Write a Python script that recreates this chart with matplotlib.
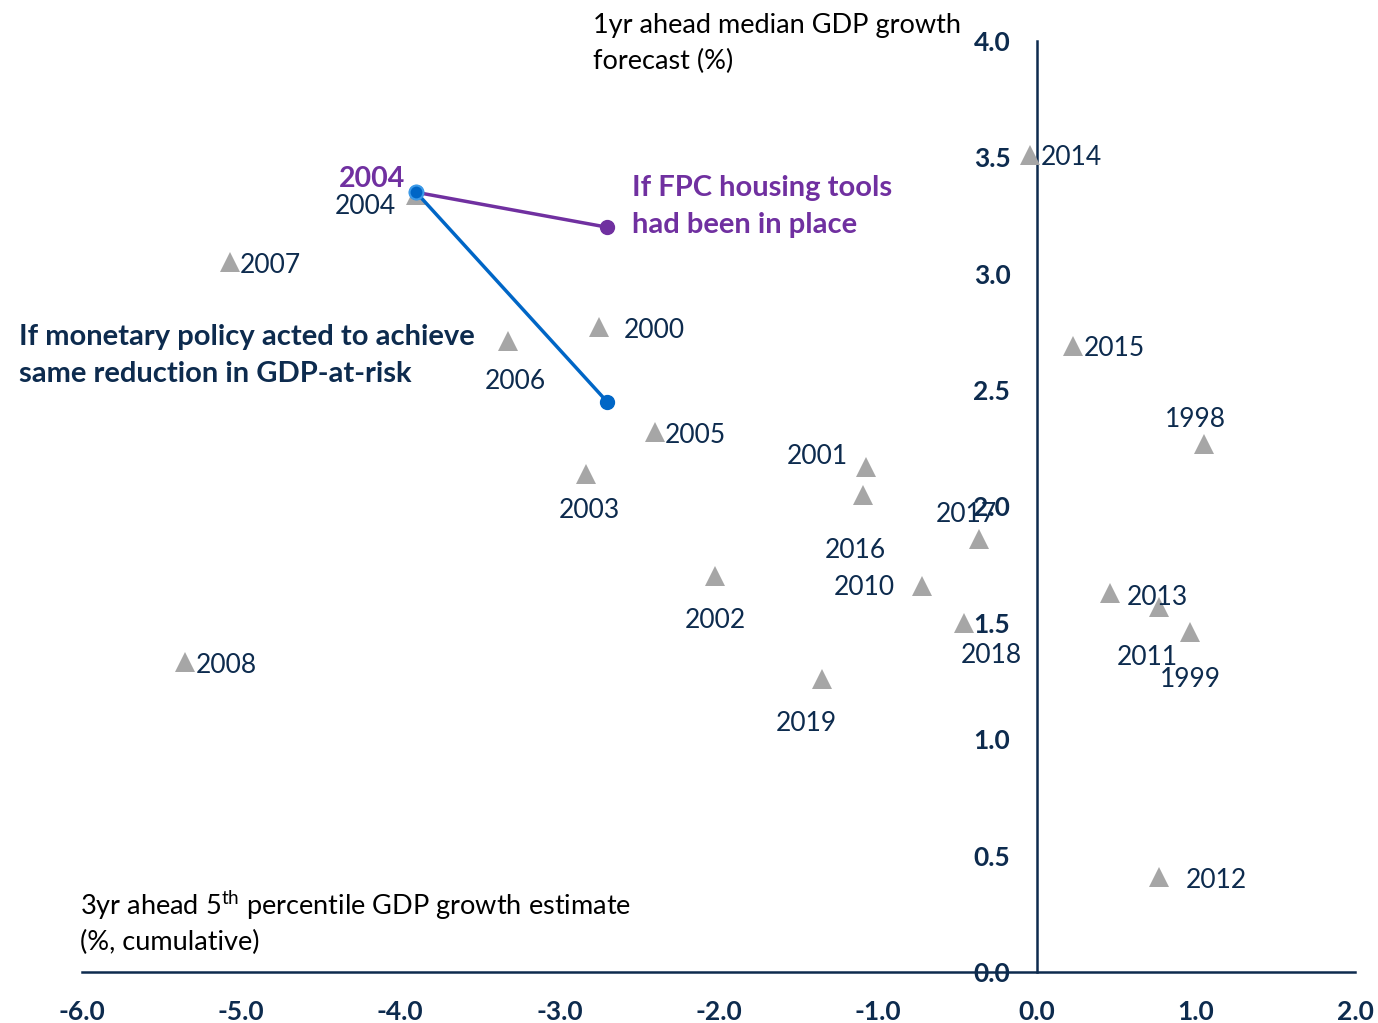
import matplotlib
matplotlib.use("Agg")
import matplotlib.pyplot as plt

plt.rcParams['font.family'] = ['Lato', 'DejaVu Sans']

# Data: 3yr ahead 5th percentile GDP growth (x), 1yr ahead median GDP growth forecast (y)
years = ['2014', '2004', '2007', '2000', '2006', '2015', '1998', '2005', '2001', '2003',
         '2016', '2017', '2002', '2010', '2013', '2011', '2018', '1999', '2008', '2019', '2012']
x_vals = [-0.04, -3.90, -5.07, -2.75, -3.32, 0.23, 1.05, -2.40, -1.07, -2.83,
          -1.09, -0.36, -2.02, -0.72, 0.46, 0.77, -0.46, 0.96, -5.35, -1.35, 0.77]
y_vals = [3.51, 3.34, 3.05, 2.77, 2.71, 2.69, 2.27, 2.32, 2.17, 2.14,
          2.05, 1.86, 1.70, 1.66, 1.63, 1.57, 1.50, 1.46, 1.33, 1.26, 0.41]

fpc_x = [-3.90, -2.70]
fpc_y = [3.35, 3.20]
mon_x = [-3.90, -2.70]
mon_y = [3.35, 2.45]

x_ticks = [-6.0, -5.0, -4.0, -3.0, -2.0, -1.0, 0.0, 1.0, 2.0]
y_ticks = [0.0, 0.5, 1.0, 1.5, 2.0, 2.5, 3.0, 3.5, 4.0]

NAVY = '#0d2b4e'
PURPLE = '#7030a0'
BLUE = '#0066c6'
GREY = '#a6a6a6'

# label offsets in pixels (dx, dy, ha)
offsets = {
    '2014': (10, 0, 'left'), '2004': (-20, -10, 'right'), '2007': (10, -1, 'left'),
    '2000': (25, -1, 'left'), '2006': (7, -38, 'center'), '2015': (10, -1, 'left'),
    '1998': (-8, 26, 'center'), '2005': (10, -1, 'left'), '2001': (-19, 12, 'right'),
    '2003': (3, -35, 'center'), '2016': (-8, -54, 'center'), '2017': (-13, 27, 'center'),
    '2002': (0, -42, 'center'), '2010': (-27, 0, 'right'), '2013': (17, -3, 'left'),
    '2011': (-12, -49, 'center'), '2018': (28, -31, 'center'), '1999': (1, -45, 'center'),
    '2008': (10, -1, 'left'), '2019': (-16, -43, 'center'), '2012': (26, -2, 'left'),
}
PX = 72 / 100.0
BASE_SHIFT = -2  # pixels, to align visual centre

fig = plt.figure(figsize=(13.78, 10.23), dpi=100)
ax = fig.add_axes([82/1378, 51/1023, (1355-82)/1378, (972-41)/1023])
ax.set_xlim(-6, 2)
ax.set_ylim(0, 4)

ax.spines['top'].set_visible(False)
ax.spines['right'].set_visible(False)
ax.spines['left'].set_position(('data', 0))
ax.spines['bottom'].set_position(('data', 0))
for s in ('left', 'bottom'):
    ax.spines[s].set_color(NAVY)
    ax.spines[s].set_linewidth(1.8)

ax.set_xticks(x_ticks)
ax.set_yticks(y_ticks)
ax.set_xticklabels([f'{v:.1f}' for v in x_ticks])
ax.set_yticklabels([f'{v:.1f}' for v in y_ticks])
ax.tick_params(axis='both', length=0, labelsize=19, labelcolor=NAVY)
ax.tick_params(axis='y', pad=19)
ax.tick_params(axis='x', pad=20)
for lab in ax.get_xticklabels() + ax.get_yticklabels():
    lab.set_fontweight('bold')

ax.plot(x_vals, y_vals, linestyle='none', marker='^', markersize=15,
        color=GREY, markeredgewidth=0, zorder=3, clip_on=False)

for yr, xv, yv in zip(years, x_vals, y_vals):
    dx, dy, ha = offsets[yr]
    ax.annotate(yr, (xv, yv), xytext=(dx * PX, (dy + BASE_SHIFT) * PX), textcoords='offset points',
                ha=ha, va='center', fontsize=19, color=NAVY, zorder=4)

ax.plot(mon_x, mon_y, color=BLUE, lw=2.5, marker='o', markersize=10, zorder=5)
ax.plot(fpc_x, fpc_y, color=PURPLE, lw=2.5, zorder=5)
ax.plot(fpc_x[1:], fpc_y[1:], color=PURPLE, marker='o', markersize=10, zorder=5, linestyle='none')
ax.plot(fpc_x[:1], fpc_y[:1], color=BLUE, marker='o', markersize=10,
        markeredgecolor='#3d9be9', markeredgewidth=1.5, zorder=6, linestyle='none')

ax.annotate('2004', (fpc_x[0], fpc_y[0]), xytext=(-44 * PX, 13 * PX), textcoords='offset points',
            ha='center', va='center', fontsize=20.5, color=PURPLE, fontweight='bold')

fig.text(632/1378, 1 - 188/1023, 'If FPC housing tools', fontsize=21, color=PURPLE,
         fontweight='bold', ha='left', va='center')
fig.text(632/1378, 1 - 225/1023, 'had been in place', fontsize=21, color=PURPLE,
         fontweight='bold', ha='left', va='center')
fig.text(19/1378, 1 - 337/1023, 'If monetary policy acted to achieve', fontsize=21, color=NAVY,
         fontweight='bold', ha='left', va='center')
fig.text(19/1378, 1 - 374/1023, 'same reduction in GDP-at-risk', fontsize=21, color=NAVY,
         fontweight='bold', ha='left', va='center')

fig.text(593/1378, 1 - 26/1023, '1yr ahead median GDP growth', fontsize=19.5, color='black',
         ha='left', va='center')
fig.text(593/1378, 1 - 61/1023, 'forecast (%)', fontsize=19.5, color='black',
         ha='left', va='center')
fig.text(80/1378, 1 - 905/1023, r'3yr ahead 5$^{\mathregular{th}}$ percentile GDP growth estimate',
         fontsize=19.5, color='black', ha='left', va='center')
fig.text(80/1378, 1 - 942/1023, '(%, cumulative)', fontsize=19.5, color='black',
         ha='left', va='center')

fig.savefig('out.png', dpi=100)
